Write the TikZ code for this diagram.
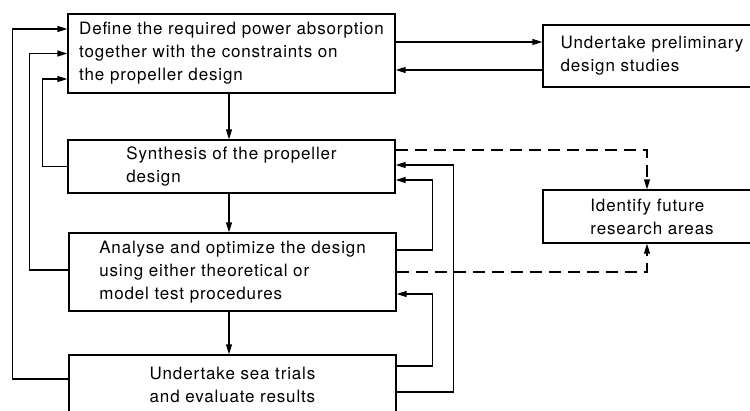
\documentclass[tikz,border=0pt]{standalone}
\usepackage{fontspec}
\setmainfont{TeX Gyre Heros}[LetterSpace=5]
\usetikzlibrary{arrows.meta}
\begin{document}
\begin{tikzpicture}[x=1pt,y=-1pt,
  box/.style={draw, line width=1.4pt, align=left, inner sep=0pt,
    font=\fontsize{17}{23}\selectfont},
  arr/.style={line width=1.4pt, -{Triangle[length=10pt,width=6pt]}},
  dsh/.style={dash pattern=on 12pt off 7pt}]
\clip (0,0) rectangle (750,410);
\fill[white] (0,0) rectangle (750,410);
% boxes
\node[box, minimum width=327pt, minimum height=79pt] (def) at (231.5,53.5)
  {Define the required power absorption\\together with the constraints on\\the propeller design};
\node[box, minimum width=327pt, minimum height=53pt] (syn) at (231.5,166.5)
  {Synthesis of the propeller\\design};
\node[box, minimum width=327pt, minimum height=78pt] (ana) at (232.5,272)
  {Analyse and optimize the design\\using either theoretical or\\model test procedures};
\node[box, minimum width=327pt, minimum height=59pt] (sea) at (232.5,384.5)
  {Undertake sea trials\\and evaluate results};
\node[box, minimum width=218pt, minimum height=62pt] (pre) at (652,56)
  {Undertake preliminary\\design studies};
\node[box, minimum width=218pt, minimum height=53pt] (idf) at (652,216.5)
  {Identify future\\research areas};
% main flow
\draw[arr] ([xshift=-2.5pt]def.south) -- ([xshift=-2.5pt]syn.north);
\draw[arr] ([xshift=-2.5pt]syn.south) -- ([xshift=-3.5pt]ana.north);
\draw[arr] ([xshift=-3.5pt]ana.south) -- ([xshift=-3.5pt]sea.north);
% preliminary studies
\draw[arr] ([yshift=11.5pt]def.east) -- ([yshift=11.5pt]def.east -| pre.west);
\draw[arr] ([yshift=-14pt]pre.west) -- ([yshift=-14pt]pre.west -| def.east);
% research areas (dashed)
\draw[arr, dsh] ([yshift=16.5pt]syn.east) -| ([xshift=-5pt]idf.north);
\draw[arr, dsh] (ana.east) -| ([xshift=-5pt]idf.south);
% right feedback loops
\draw[arr] ([yshift=22pt]ana.east) -- ++(36,0) |- ([yshift=-13.5pt]syn.east);
\draw[arr] ([yshift=18.5pt]sea.east) -- ++(36,0) |- ([yshift=-22pt]ana.east);
\draw[arr] ([yshift=-7.5pt]sea.east) -- ++(57,0) |- ([yshift=1.5pt]syn.east);
% left feedback loops
\draw[arr] (syn.west) -- ++(-25,0) |- ([yshift=-25.5pt]def.west);
\draw[arr] ([yshift=2pt]ana.west) -- ++(-39,0) |- (def.west);
\draw[arr] ([yshift=5.5pt]sea.west) -- ++(-56,0) |- ([yshift=24.5pt]def.west);
\end{tikzpicture}
\end{document}
